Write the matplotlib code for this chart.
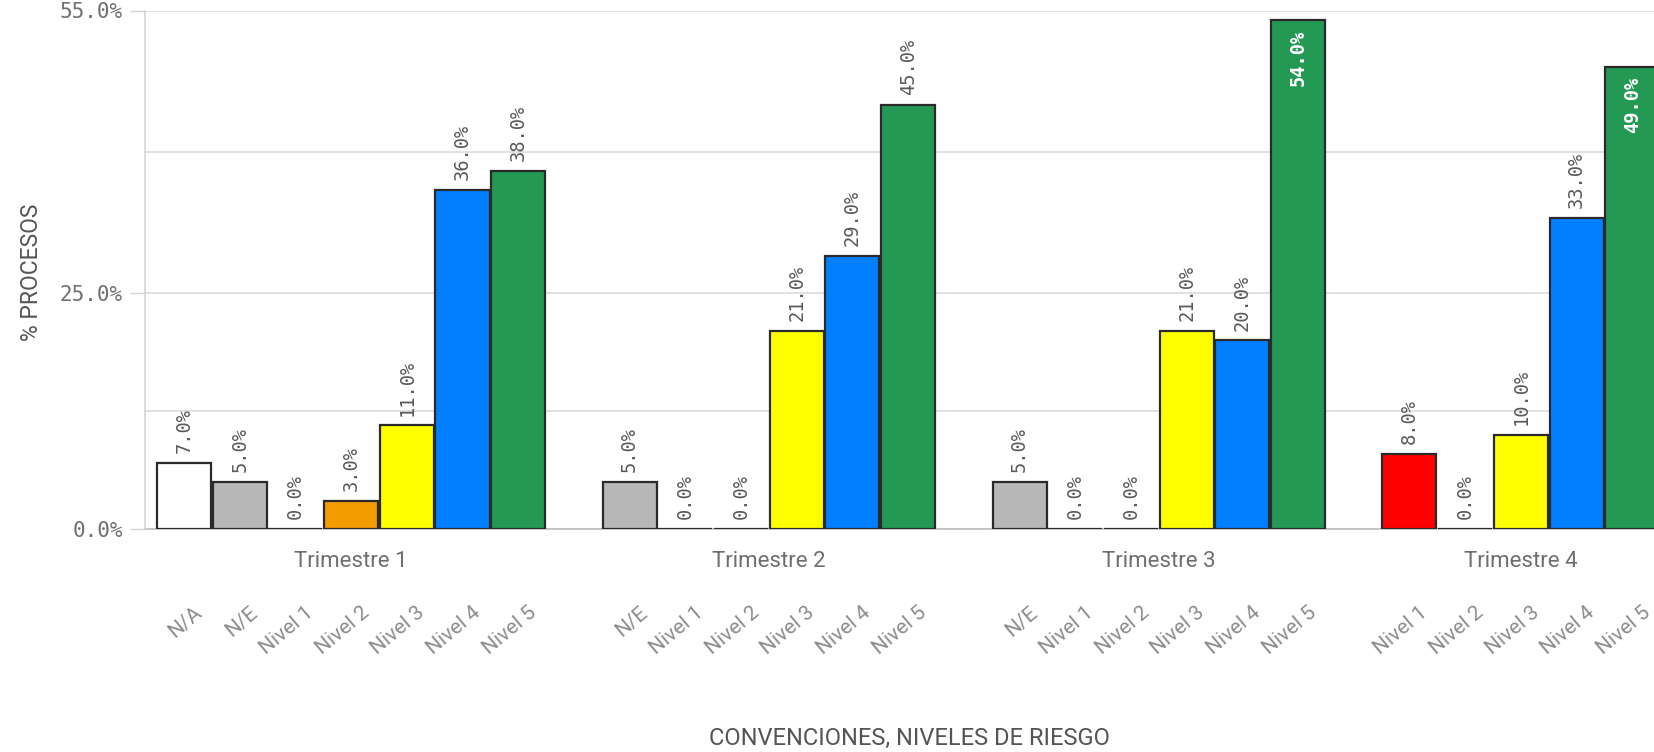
import matplotlib
matplotlib.use('Agg')
import matplotlib.pyplot as plt
import matplotlib.transforms as mtransforms

# datos por trimestre
quarters = ['Trimestre 1', 'Trimestre 2', 'Trimestre 3', 'Trimestre 4']
t1_levels = ['N/A', 'N/E', 'Nivel 1', 'Nivel 2', 'Nivel 3', 'Nivel 4', 'Nivel 5']
t1_values = [7, 5, 0, 3, 11, 36, 38]
t2_levels = ['N/E', 'Nivel 1', 'Nivel 2', 'Nivel 3', 'Nivel 4', 'Nivel 5']
t2_values = [5, 0, 0, 21, 29, 45]
t3_levels = ['N/E', 'Nivel 1', 'Nivel 2', 'Nivel 3', 'Nivel 4', 'Nivel 5']
t3_values = [5, 0, 0, 21, 20, 54]
t4_levels = ['Nivel 1', 'Nivel 2', 'Nivel 3', 'Nivel 4', 'Nivel 5']
t4_values = [8, 0, 10, 33, 49]

level_colors = {
    'N/A': '#ffffff',
    'N/E': '#b8b8b8',
    'Nivel 1': '#ff0000',
    'Nivel 2': '#f39c00',
    'Nivel 3': '#ffff00',
    'Nivel 4': '#0080ff',
    'Nivel 5': '#239954',
}

yticks = [0, 25, 55]
ytick_labels = ['0.0%', '25.0%', '55.0%']
yminor = [12.5, 40]

groups = [(t1_levels, t1_values), (t2_levels, t2_values),
          (t3_levels, t3_values), (t4_levels, t4_values)]

fig = plt.figure(figsize=(16.54, 7.52), dpi=100)
ax = fig.add_axes([145 / 1654, 1 - 529 / 752, 1 - 145 / 1654, (529 - 10.5) / 752])

ymax = 55
ax.set_ylim(0, ymax)
ax.set_xlim(-0.70, 26.39)

trans = mtransforms.blended_transform_factory(ax.transData, ax.transAxes)
mono = 'DejaVu Sans Mono'
sans = 'Roboto'

pos = 0
for (levels, values), q in zip(groups, quarters):
    xs = list(range(pos, pos + len(levels)))
    cols = [level_colors[l] for l in levels]
    ax.bar(xs, values, width=0.97, color=cols, edgecolor='#2a2a2a',
           linewidth=1.6, zorder=3)
    for x, v, l in zip(xs, values, levels):
        lab = '%.1f%%' % v
        if v + 7.5 > ymax:
            ax.annotate(lab, (x, v), xytext=(0, -7), textcoords='offset points',
                        rotation=90, ha='center', va='top', fontsize=13.5,
                        family=mono, color='white', fontweight='bold', zorder=4)
        else:
            ax.annotate(lab, (x, v), xytext=(0, 7), textcoords='offset points',
                        rotation=90, ha='center', va='bottom', fontsize=13.5,
                        family=mono, color='#5a5a5a', zorder=4)
        ax.text(x + 0.17, -0.143, l, transform=trans, rotation=40,
                rotation_mode='anchor', ha='right', va='top', fontsize=15,
                family=sans, color='#8c8c8c')
    ax.text((xs[0] + xs[-1]) / 2, -0.0636, q, transform=trans, ha='center',
            va='center', fontsize=16, family=sans, color='#6e6e6e')
    pos = xs[-1] + 2

# rejilla
ax.set_yticks(yticks)
ax.set_yticklabels(ytick_labels, family=mono, fontsize=15, color='#707070')
ax.set_yticks(yminor, minor=True)
ax.tick_params(axis='y', which='major', length=11, color='#d4d4d4', width=1, pad=5)
ax.tick_params(axis='y', which='minor', length=0)
ax.grid(axis='y', which='both', color='#dcdcdc', linewidth=1.2, zorder=0)
ax.set_xticks([])
for s in ['top', 'right', 'bottom']:
    ax.spines[s].set_visible(False)
ax.spines['left'].set_color('#d4d4d4')
ax.spines['left'].set_linewidth(1.2)
ax.axhline(0, color='#bdbdbd', linewidth=1.2, zorder=2, clip_on=False)

fig.text(32 / 1654, 1 - 272 / 752, '% PROCESOS', rotation=90, ha='center',
         va='center', fontsize=16.5, family=sans, color='#555555')
fig.text(909 / 1654, 1 - 738 / 752, 'CONVENCIONES, NIVELES DE RIESGO',
         ha='center', va='center', fontsize=17, family=sans, color='#555555')

fig.savefig('out.png', dpi=100)
